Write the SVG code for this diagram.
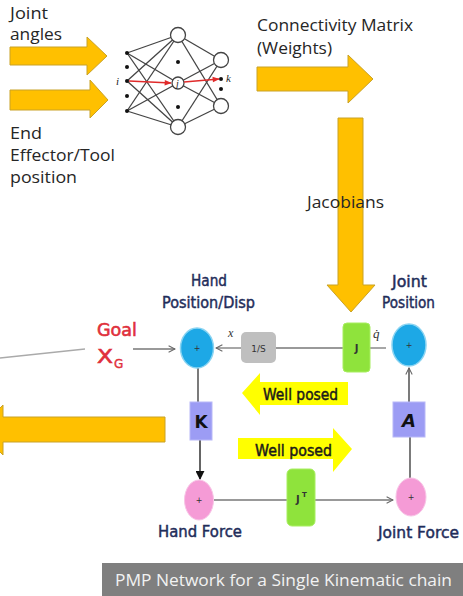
<svg xmlns="http://www.w3.org/2000/svg" width="463" height="596" viewBox="0 0 463 596">
<defs>
<style>
.cal{font-family:"Open Sans","Noto Sans","Liberation Sans",sans-serif;fill:#262626;font-size:16px}
.com{font-family:"DejaVu Sans","Liberation Sans",sans-serif;fill:#1F2D5A;stroke:#1F2D5A;stroke-width:0.45;font-size:15px}
.big{fill:#FFC000;stroke:#C9A227;stroke-width:1}
.wp{fill:#FFFF00}
.wpt{font-family:"DejaVu Sans","Liberation Sans",sans-serif;fill:#1a1a1a;stroke:#1a1a1a;stroke-width:0.5;font-size:16px}
.nn{stroke:#444;stroke-width:1.3;fill:none}
.nc{fill:#fff;stroke:#444;stroke-width:1.3}
.dot{fill:#111}
.blue{fill:#1DA8E6;stroke:#8AD4F2;stroke-width:1.5}
.pink{fill:#F59BD6;stroke:#F8C4E6;stroke-width:1}
.plus{font-family:"DejaVu Sans",sans-serif;font-size:8px;fill:#333;text-anchor:middle}
.conn{stroke:#777;stroke-width:1.3;fill:none}
.purp{fill:#9C9CF4;stroke:#B8B8F8;stroke-width:1}
.green{fill:#8FE33C;stroke:#A8EE60;stroke-width:1}
</style>
<marker id="open" viewBox="0 0 10 10" refX="9" refY="5" markerWidth="8" markerHeight="8" orient="auto" markerUnits="userSpaceOnUse">
<path d="M1,1 L9,5 L1,9" fill="none" stroke="#666" stroke-width="1.3"/>
</marker>
<marker id="blk" viewBox="0 0 10 10" refX="9" refY="5" markerWidth="9" markerHeight="9" orient="auto" markerUnits="userSpaceOnUse">
<path d="M0,0 L10,5 L0,10 Z" fill="#111"/>
</marker>
<marker id="red" viewBox="0 0 10 10" refX="9" refY="5" markerWidth="9" markerHeight="7" orient="auto" markerUnits="userSpaceOnUse">
<path d="M0,1 L10,5 L0,9 Z" fill="#E02A2A"/>
</marker>
</defs>
<rect width="463" height="596" fill="#fff"/>

<g id="input-labels">
<text class="cal" x="10" y="19" textLength="38" lengthAdjust="spacingAndGlyphs">Joint</text>
<text class="cal" x="10" y="40" textLength="52" lengthAdjust="spacingAndGlyphs">angles</text>
<text class="cal" x="10" y="139" textLength="32" lengthAdjust="spacingAndGlyphs">End</text>
<text class="cal" x="10" y="161" textLength="105" lengthAdjust="spacingAndGlyphs">Effector/Tool</text>
<text class="cal" x="10" y="183" textLength="67" lengthAdjust="spacingAndGlyphs">position</text>
</g>

<g id="input-arrows">
<polygon class="big" points="10,47 87,47 87,37 107,56 87,75 87,65 10,65"/>
<polygon class="big" points="10,90 90,90 90,80 108,100 90,118 90,110 10,110"/>
</g>

<g id="neural-net">
<g class="nn">
<line x1="127" y1="53" x2="178" y2="35"/><line x1="127" y1="53" x2="178" y2="83"/><line x1="127" y1="53" x2="178" y2="127"/>
<line x1="127" y1="81" x2="178" y2="35"/><line x1="127" y1="81" x2="178" y2="127"/>
<line x1="127" y1="111" x2="178" y2="35"/><line x1="127" y1="111" x2="178" y2="83"/><line x1="127" y1="111" x2="178" y2="127"/>
<line x1="178" y1="35" x2="221" y2="60"/><line x1="178" y1="35" x2="221" y2="106"/>
<line x1="178" y1="83" x2="221" y2="60"/><line x1="178" y1="83" x2="221" y2="106"/>
<line x1="178" y1="127" x2="221" y2="60"/><line x1="178" y1="127" x2="221" y2="106"/>
</g>
<circle class="nc" cx="178" cy="35" r="7.5"/>
<circle class="nc" cx="178" cy="127" r="7.5"/>
<circle class="nc" cx="221" cy="60" r="7.5"/>
<circle class="nc" cx="221" cy="106" r="7.5"/>
<circle class="nc" cx="178" cy="83" r="6"/>
<circle class="dot" cx="127" cy="53" r="2"/><circle class="dot" cx="127" cy="67" r="2"/><circle class="dot" cx="127" cy="81" r="2"/><circle class="dot" cx="127" cy="96" r="2"/><circle class="dot" cx="127" cy="111" r="2"/>
<circle class="dot" cx="178" cy="62" r="2"/><circle class="dot" cx="178" cy="107" r="2"/>
<circle class="dot" cx="221" cy="79" r="2"/><circle class="dot" cx="221" cy="89" r="2"/>
<line x1="129" y1="81" x2="171" y2="83" stroke="#E02A2A" stroke-width="1.5" marker-end="url(#red)"/>
<line x1="184" y1="82" x2="219" y2="79" stroke="#E02A2A" stroke-width="1.5" marker-end="url(#red)"/>
<text x="116" y="85" font-family="Liberation Serif,serif" font-style="italic" font-size="11" fill="#222">i</text>
<text x="176" y="87" font-family="Liberation Serif,serif" font-style="italic" font-size="10" fill="#222">j</text>
<text x="226" y="82" font-family="Liberation Serif,serif" font-style="italic" font-size="11" fill="#222">k</text>
</g>

<g id="connectivity">
<text class="cal" x="257" y="31" textLength="156" lengthAdjust="spacingAndGlyphs">Connectivity Matrix</text>
<text class="cal" x="257" y="54" textLength="75" lengthAdjust="spacingAndGlyphs">(Weights)</text>
<polygon class="big" points="257,67 348,67 348,55 373,79 348,103 348,91 257,91"/>
</g>

<g id="jacobians">
<polygon class="big" points="338,118 363,118 363,285 375,285 351,312 327,285 338,285"/>
<text class="cal" x="307" y="208" textLength="77" lengthAdjust="spacingAndGlyphs">Jacobians</text>
</g>

<g id="output-arrow">
<polygon class="big" points="165,417 3,417 3,405 -22,430 3,455 3,442 165,442"/>
</g>

<g id="connectors">
<line x1="0" y1="358" x2="85" y2="349" stroke="#AAA" stroke-width="1.3"/>
<line class="conn" x1="133" y1="349" x2="175" y2="349" marker-end="url(#open)"/>
<line class="conn" x1="343" y1="348" x2="276" y2="348"/>
<line class="conn" x1="241" y1="348" x2="216" y2="348" marker-end="url(#open)"/>
<line class="conn" x1="370" y1="348" x2="386" y2="348"/>
<line x1="409" y1="402" x2="409" y2="368" stroke="#333" stroke-width="1.3" marker-end="url(#open)"/>
<line x1="410" y1="437" x2="410" y2="478" stroke="#333" stroke-width="1.3"/>
<line x1="198" y1="368" x2="198" y2="402" stroke="#333" stroke-width="1.3"/>
<line x1="200" y1="440" x2="200" y2="479" stroke="#111" stroke-width="1.3" marker-end="url(#blk)"/>
<line class="conn" x1="214" y1="500" x2="287" y2="500"/>
<line class="conn" x1="315" y1="500" x2="393" y2="500" marker-end="url(#open)"/>
<text x="228" y="337" font-family="Liberation Serif,serif" font-style="italic" font-size="12" fill="#333">x</text>
<text x="373" y="338" font-family="Liberation Serif,serif" font-style="italic" font-size="13" fill="#333">q̇</text>
</g>

<g id="goal">
<text x="97" y="336" font-family="DejaVu Sans,sans-serif" font-size="18" fill="#E0303C" stroke="#E0303C" stroke-width="0.6" textLength="40" lengthAdjust="spacingAndGlyphs">Goal</text>
<text x="97" y="363" font-family="DejaVu Sans,sans-serif" font-size="19" fill="#E0303C" stroke="#E0303C" stroke-width="0.6" textLength="16" lengthAdjust="spacingAndGlyphs">X</text>
<text x="114" y="368" font-family="DejaVu Sans,sans-serif" font-size="12" fill="#E0303C" stroke="#E0303C" stroke-width="0.4">G</text>
</g>

<g id="hand-position">
<text class="com" x="191" y="286" textLength="36" lengthAdjust="spacingAndGlyphs">Hand</text>
<text class="com" x="162" y="308" textLength="93" lengthAdjust="spacingAndGlyphs">Position/Disp</text>
<ellipse class="blue" cx="197" cy="348" rx="16.5" ry="20"/>
<text class="plus" x="197" y="351">+</text>
</g>

<g id="integrator">
<rect x="241" y="332" width="35" height="31" rx="5" fill="#BFBFBF"/>
<text x="258.5" y="352" font-family="DejaVu Sans,sans-serif" font-size="9" fill="#333" text-anchor="middle">1/S</text>
</g>

<g id="jacobian-box">
<rect class="green" x="343" y="323" width="27" height="49" rx="4"/>
<text x="356.5" y="352" font-family="DejaVu Sans,sans-serif" font-size="10" font-weight="bold" fill="#333" text-anchor="middle">J</text>
</g>

<g id="joint-position">
<text class="com" x="392" y="287" textLength="35" lengthAdjust="spacingAndGlyphs">Joint</text>
<text class="com" x="382" y="308" textLength="53" lengthAdjust="spacingAndGlyphs">Position</text>
<ellipse class="blue" cx="409" cy="345" rx="17" ry="21"/>
<text class="plus" x="409" y="348">+</text>
</g>

<g id="well-posed-left">
<polygon class="wp" points="242,393 260,373 260,382 348,382 348,405 260,405 260,415"/>
<text class="wpt" x="263" y="400" textLength="75" lengthAdjust="spacingAndGlyphs">Well posed</text>
</g>

<g id="well-posed-right">
<polygon class="wp" points="238,438 333,438 333,428 352,449 333,472 333,459 238,459"/>
<text class="wpt" x="255" y="456" textLength="77" lengthAdjust="spacingAndGlyphs">Well posed</text>
</g>

<g id="K">
<rect class="purp" x="190" y="402" width="22" height="38"/>
<text x="201" y="428" font-family="DejaVu Sans,sans-serif" font-size="17" font-weight="bold" fill="#111" text-anchor="middle">K</text>
</g>

<g id="A">
<rect class="purp" x="393" y="402" width="32" height="35"/>
<text x="409" y="427" font-family="DejaVu Sans,sans-serif" font-size="18" font-weight="bold" font-style="italic" fill="#111" text-anchor="middle">A</text>
</g>

<g id="hand-force">
<ellipse class="pink" cx="199" cy="500" rx="14.5" ry="20"/>
<text class="plus" x="199" y="503" fill="#7A1040">+</text>
<text class="com" x="158" y="537" textLength="84" lengthAdjust="spacingAndGlyphs">Hand Force</text>
</g>

<g id="jacobian-transpose">
<rect class="green" x="287" y="469" width="28" height="57" rx="5"/>
<text x="296" y="503" font-family="DejaVu Sans,sans-serif" font-size="10" font-weight="bold" fill="#333">J</text>
<text x="302" y="497" font-family="DejaVu Sans,sans-serif" font-size="7" font-weight="bold" fill="#333">T</text>
</g>

<g id="joint-force">
<ellipse class="pink" cx="411" cy="497" rx="15" ry="19"/>
<text class="plus" x="411" y="500">+</text>
<text class="com" x="378" y="538" textLength="81" lengthAdjust="spacingAndGlyphs">Joint Force</text>
</g>

<g id="caption">
<rect x="102" y="563" width="361" height="33" fill="#7F7F7F"/>
<text x="115" y="586" font-family="Open Sans,Noto Sans,sans-serif" font-size="16" fill="#F2F2F2" textLength="337" lengthAdjust="spacingAndGlyphs">PMP Network for a Single Kinematic chain</text>
</g>
</svg>
